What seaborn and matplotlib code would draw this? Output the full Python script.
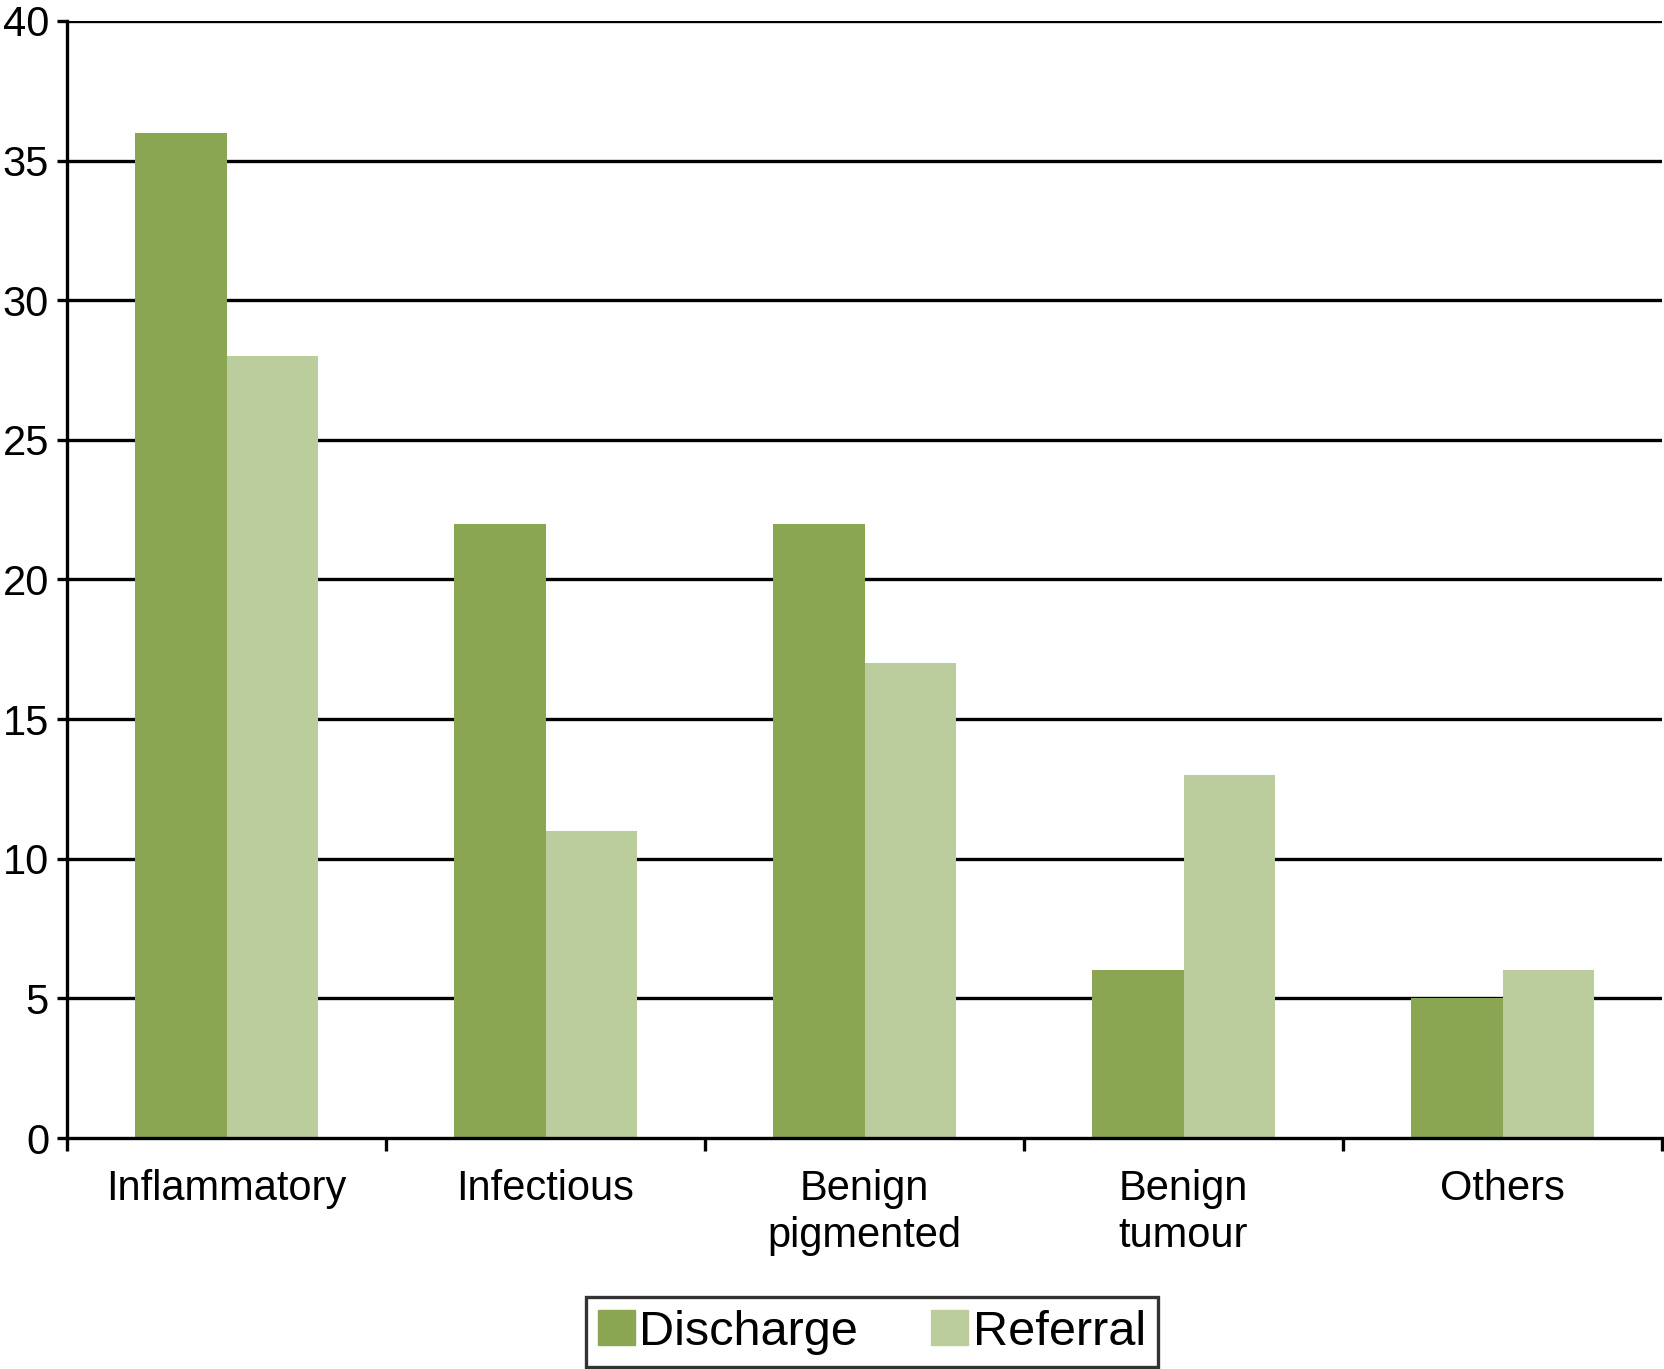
import numpy as np
import pandas as pd
import matplotlib
matplotlib.use('Agg')
import matplotlib.pyplot as plt
import seaborn as sns

categories = ['Inflammatory', 'Infectious', 'Benign\npigmented', 'Benign\ntumour', 'Others']
discharge = [36, 22, 22, 6, 5]
referral = [28, 11, 17, 13, 6]
series = ['Discharge', 'Referral']
yticks = [0, 5, 10, 15, 20, 25, 30, 35, 40]

COLORS = ['#8AA653', '#BCCD9D']

sns.set_theme(style='white')
plt.rcParams['font.family'] = ['Liberation Sans', 'DejaVu Sans']
plt.rcParams['text.color'] = 'black'
plt.rcParams['xtick.color'] = 'black'
plt.rcParams['ytick.color'] = 'black'

df = pd.DataFrame({
    'category': categories * 2,
    'value': discharge + referral,
    'series': [series[0]] * len(categories) + [series[1]] * len(categories),
})

fig = plt.figure(figsize=(16.64, 13.69), dpi=100)
ax = fig.add_axes([0.0403, 0.1687, 0.9585, 0.816])

sns.barplot(data=df, x='category', y='value', hue='series', order=categories,
            hue_order=series, palette=COLORS, width=0.575, gap=0,
            saturation=1, linewidth=0, ax=ax, zorder=3)

# horizontal grid lines behind the bars
for y in yticks[1:]:
    ax.axhline(y, color='black', lw=2.4, zorder=1)

ax.set_ylim(0, 40)
ax.set_xlim(-0.5, len(categories) - 0.5)
ax.set_yticks(yticks)
ax.set_xticks(np.arange(len(categories) + 1) - 0.5)
ax.set_xticklabels([])
ax.set_xticks(np.arange(len(categories)), minor=True)
ax.set_xticklabels(categories, minor=True, fontsize=30, linespacing=1.25)
ax.tick_params(axis='x', which='minor', length=0, pad=22)
ax.tick_params(axis='x', which='major', direction='out', length=9, width=2.4,
               color='black', bottom=True)
ax.tick_params(axis='y', direction='out', length=7, width=2.4, color='black',
               left=True, labelsize=30, pad=6)
ax.set_xlabel('')
ax.set_ylabel('')

for s in ['top', 'right']:
    ax.spines[s].set_visible(False)
for s in ['left', 'bottom']:
    ax.spines[s].set_color('black')
    ax.spines[s].set_linewidth(2.4)
    ax.spines[s].set_zorder(4)

ax.get_legend().remove()
handles = [plt.Rectangle((0, 0), 1, 1, color=c) for c in COLORS]
leg = fig.legend(handles, series, loc='center', bbox_to_anchor=(0.524, 0.027),
                 ncol=2, fontsize=35, frameon=True, fancybox=False,
                 edgecolor='black', handlelength=0.75, handleheight=0.75,
                 handletextpad=0.1, columnspacing=1.5, borderpad=0.25,
                 borderaxespad=0)
leg.get_frame().set_linewidth(2.4)

fig.savefig('out.png', dpi=100)
